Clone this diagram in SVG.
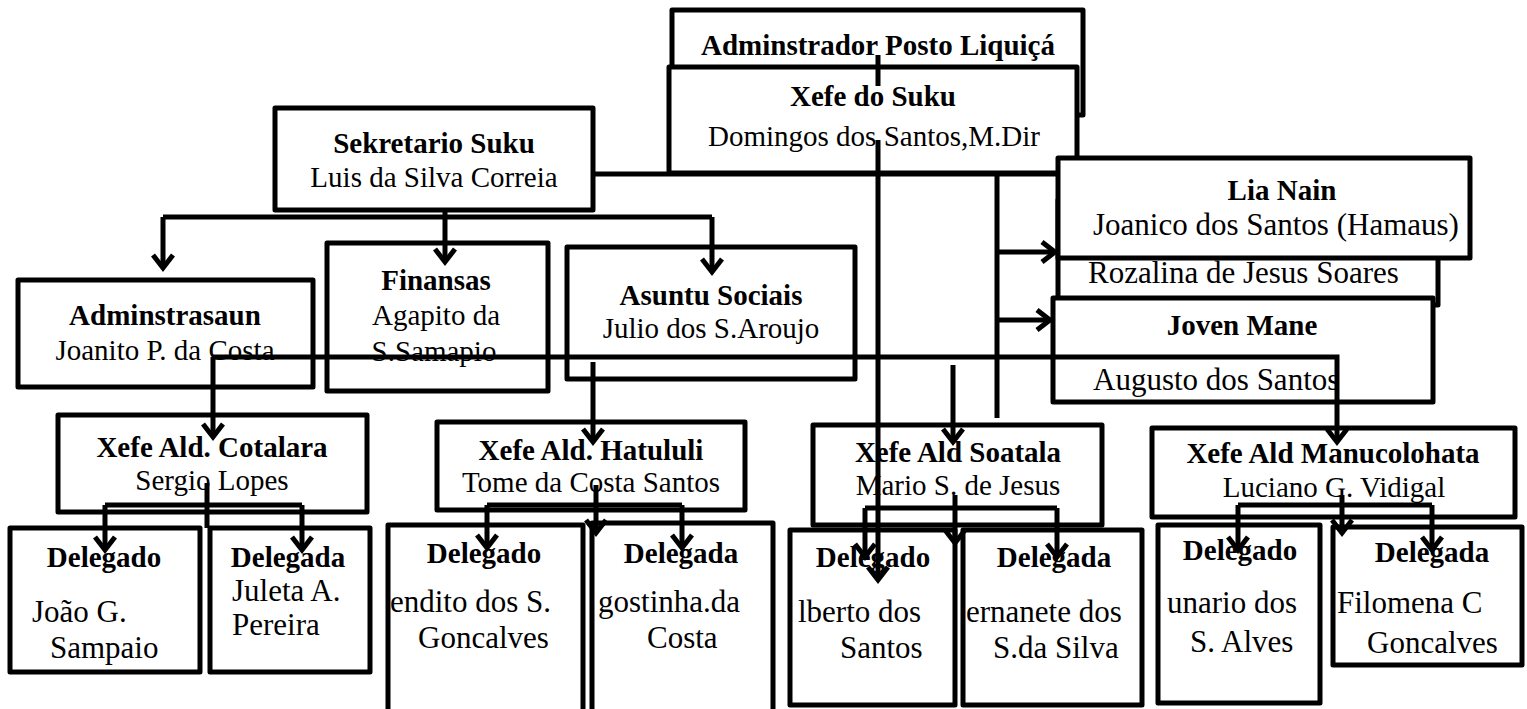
<svg xmlns="http://www.w3.org/2000/svg" width="1527" height="709" viewBox="0 0 1527 709">
<style>
.box{fill:#fff;stroke:#000;stroke-width:5;stroke-linejoin:round}
.h{font-family:"Liberation Serif","Times New Roman",serif;font-weight:bold;font-size:29px;text-anchor:middle;fill:#000}
.n{font-family:"Liberation Serif","Times New Roman",serif;font-size:29px;text-anchor:middle;fill:#000}
.s{font-family:"Liberation Serif","Times New Roman",serif;font-size:31px;fill:#000}
.c{fill:none;stroke:#000;stroke-width:5}
.a{fill:none;stroke:#000;stroke-width:5;marker-end:url(#arr)}
</style>
<defs>
<marker id="arr" markerUnits="userSpaceOnUse" markerWidth="30" markerHeight="30" viewBox="-20 -15 25 30" refX="0" refY="0" orient="auto">
<path d="M-13,-10 L0,0 L-13,10" fill="none" stroke="#000" stroke-width="5"/>
</marker>
</defs>
<rect width="1527" height="709" fill="#fff"/>
<g id="admin-posto"><rect class="box" x="672" y="10" width="411" height="105"/><text class="h" x="878" y="55">Adminstrador Posto Liquiçá</text></g>
<g id="xefe-suku"><rect class="box" x="669" y="67" width="408" height="106"/><text class="h" x="873" y="106">Xefe do Suku</text><text class="n" x="874" y="146">Domingos dos Santos,M.Dir</text></g>
<g id="sekretario"><rect class="box" x="275" y="108" width="318" height="102"/><text class="h" x="434" y="153">Sekretario Suku</text><text class="n" x="434" y="187">Luis da Silva Correia</text></g>
<g id="rozalina"><rect class="box" x="1058" y="200" width="380" height="105"/><text class="s" x="1088" y="283">Rozalina de Jesus Soares</text></g>
<g id="lia-nain"><rect class="box" x="1058" y="158" width="412" height="100"/><text class="h" x="1282" y="200">Lia Nain</text><text class="s" x="1093" y="235">Joanico dos Santos (Hamaus)</text></g>
<g id="joven-mane"><rect class="box" x="1053" y="298" width="380" height="104"/><text class="h" x="1242" y="335">Joven Mane</text><text class="s" x="1093" y="390">Augusto dos Santos</text></g>
<g id="adminstrasaun"><rect class="box" x="18" y="280" width="295" height="107"/><text class="h" x="165" y="325">Adminstrasaun</text><text class="n" x="165" y="360">Joanito P. da Costa</text></g>
<g id="finansas"><rect class="box" x="327" y="243" width="221" height="148"/><text class="h" x="436" y="290">Finansas</text><text class="n" x="436" y="325">Agapito da</text><text class="n" x="434" y="361">S.Samapio</text></g>
<g id="asuntu"><rect class="box" x="567" y="247" width="288" height="132"/><text class="h" x="711" y="305">Asuntu Sociais</text><text class="n" x="711" y="338">Julio dos S.Aroujo</text></g>
<g id="cotalara"><rect class="box" x="58" y="415" width="309" height="97"/><text class="h" x="212" y="457">Xefe Ald. Cotalara</text><text class="n" x="212" y="490">Sergio Lopes</text></g>
<g id="hatululi"><rect class="box" x="437" y="422" width="308" height="88"/><text class="h" x="591" y="460">Xefe Ald. Hatululi</text><text class="n" x="591" y="492">Tome da Costa Santos</text></g>
<g id="soatala"><rect class="box" x="813" y="425" width="289" height="100"/><text class="h" x="958" y="462">Xefe Ald Soatala</text><text class="n" x="958" y="495">Mario S. de Jesus</text></g>
<g id="manucolohata"><rect class="box" x="1152" y="428" width="363" height="89"/><text class="h" x="1333" y="463">Xefe Ald Manucolohata</text><text class="n" x="1334" y="497">Luciano G. Vidigal</text></g>
<g id="del-cot-1"><rect class="box" x="10" y="528" width="190" height="144"/><text class="h" x="104" y="567">Delegado</text><text class="s" x="32" y="622">João G.</text><text class="s" x="50" y="658">Sampaio</text></g>
<g id="del-cot-2"><rect class="box" x="210" y="528" width="160" height="144"/><text class="h" x="288" y="567">Delegada</text><text class="s" x="232" y="601">Juleta A.</text><text class="s" x="232" y="635">Pereira</text></g>
<g id="del-hat-1"><rect class="box" x="388" y="525" width="195" height="190"/><text class="h" x="484" y="563">Delegado</text><text class="s" x="390" y="612">endito dos S.</text><text class="s" x="418" y="648">Goncalves</text></g>
<g id="del-hat-2"><rect class="box" x="592" y="523" width="181" height="192"/><text class="h" x="681" y="563">Delegada</text><text class="s" x="598" y="612">gostinha.da</text><text class="s" x="647" y="648">Costa</text></g>
<g id="del-soa-1"><rect class="box" x="790" y="530" width="165" height="175"/><text class="h" x="873" y="567">Delegado</text><text class="s" x="798" y="622">lberto dos</text><text class="s" x="840" y="658">Santos</text></g>
<g id="del-soa-2"><rect class="box" x="963" y="530" width="179" height="175"/><text class="h" x="1054" y="567">Delegada</text><text class="s" x="966" y="622">ernanete dos</text><text class="s" x="993" y="658">S.da Silva</text></g>
<g id="del-man-1"><rect class="box" x="1158" y="525" width="162" height="178"/><text class="h" x="1240" y="560">Delegado</text><text class="s" x="1167" y="613">unario dos</text><text class="s" x="1190" y="652">S. Alves</text></g>
<g id="del-man-2"><rect class="box" x="1333" y="527" width="189" height="138"/><text class="h" x="1432" y="562">Delegada</text><text class="s" x="1337" y="613">Filomena C</text><text class="s" x="1367" y="653">Goncalves</text></g>
<g id="connectors">
<path class="c" d="M878,55 V86"/>
<path class="a" d="M878,140 V580"/>
<path class="c" d="M593,174 H1058"/>
<path class="c" d="M997,174 V418"/>
<path class="a" d="M999,252 H1055"/>
<path class="a" d="M999,320 H1050"/>
<path class="a" d="M445,210 V262"/>
<path class="c" d="M163,217 H712"/>
<path class="a" d="M163,217 V268"/>
<path class="a" d="M712,217 V272"/>
<path class="a" d="M213,357 V437"/>
<path class="a" d="M213,357 H1337 V442"/>
<path class="a" d="M593,362 V442"/>
<path class="a" d="M953,365 V442"/>
<path class="c" d="M207,483 V528"/>
<path class="c" d="M105,505 H302"/>
<path class="a" d="M105,505 V550"/>
<path class="a" d="M302,505 V550"/>
<path class="a" d="M596,485 V533"/>
<path class="c" d="M487,505 H682"/>
<path class="a" d="M487,505 V548"/>
<path class="a" d="M682,505 V548"/>
<path class="a" d="M955,495 V543"/>
<path class="c" d="M865,508 H1057"/>
<path class="a" d="M865,508 V557"/>
<path class="a" d="M1057,508 V557"/>
<path class="a" d="M1342,495 V533"/>
<path class="c" d="M1238,505 H1432"/>
<path class="a" d="M1238,505 V550"/>
<path class="a" d="M1432,505 V550"/>
</g>
</svg>
